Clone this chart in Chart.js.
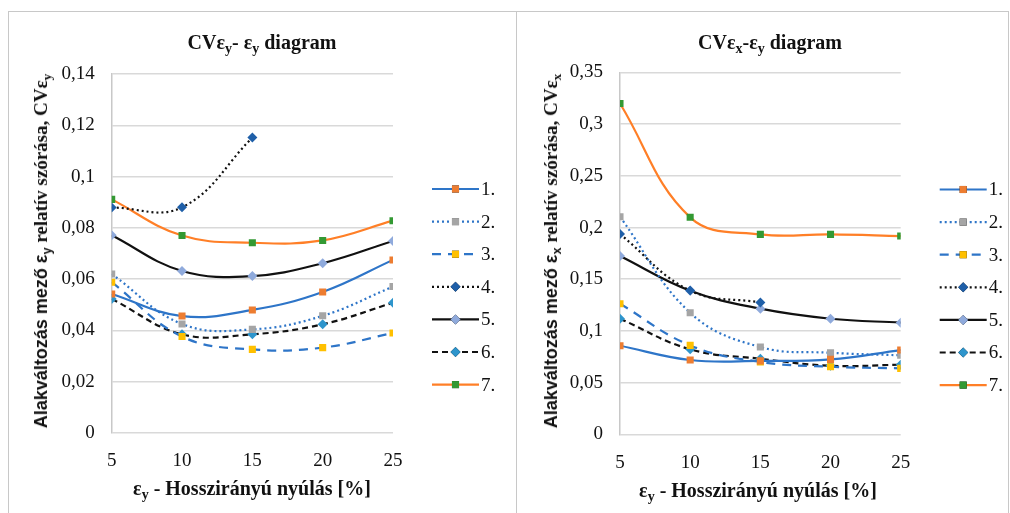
<!DOCTYPE html>
<html>
<head>
<meta charset="utf-8">
<title>CV diagrams</title>
<script src="https://cdn.jsdelivr.net/npm/chart.js"></script>
<style>
  body { margin: 0; background: #fff; width: 1010px; height: 513px; overflow: hidden; position: relative; }
  .frame { position: absolute; left: 8px; top: 11px; width: 999px; height: 510px;
           border: 1.5px solid #c8c8c8; border-bottom: none; }
  .divider { position: absolute; left: 516px; top: 11px; width: 0; height: 510px; border-left: 1.5px solid #c8c8c8; }
  .panel { position: absolute; top: 11px; height: 502px; }
  .panel canvas { position: absolute; left: 0; top: 0; }
  .title, .xtitle { position: absolute; transform: translate(-50%, -50%); white-space: nowrap;
           font-family: "Liberation Serif", serif; font-weight: bold; font-size: 20px; color: #111; }
  .ytitle { position: absolute; white-space: nowrap; transform: translate(-50%, -50%) rotate(-90deg);
           font-weight: bold; font-size: 19px; color: #111; font-family: "Liberation Serif", serif; }
  .ytitle .sans { font-family: "Liberation Sans", sans-serif; font-size: 18px; }
  sub { font-size: 70%; vertical-align: -0.3em; line-height: 0; }
</style>
</head>
<body>
<div class="frame"></div>
<div class="divider"></div>

<div class="panel" id="leftPanel" style="left:8px;width:508px;">
  <canvas id="chartY" width="508" height="502"></canvas>
</div>
<div class="panel" id="rightPanel" style="left:517px;width:491px;">
  <canvas id="chartX" width="491" height="502"></canvas>
</div>

<div class="title" style="left:262px;top:42px;">CVε<sub>y</sub>- ε<sub>y</sub> diagram</div>
<div class="title" style="left:770px;top:42px;">CVε<sub>x</sub>-ε<sub>y</sub> diagram</div>
<div class="xtitle" style="left:252px;top:488px;">ε<sub>y</sub> - Hosszirányú nyúlás [%]</div>
<div class="xtitle" style="left:758px;top:490px;">ε<sub>y</sub> - Hosszirányú nyúlás [%]</div>
<div class="ytitle" style="left:41px;top:251px;"><span class="sans">Alakváltozás mező ε<sub>y</sub></span> relatív szórása, CVε<sub>y</sub></div>
<div class="ytitle" style="left:551px;top:251px;"><span class="sans">Alakváltozás mező ε<sub>x</sub></span> relatív szórása, CVε<sub>x</sub></div>

<script>
// x values: longitudinal strain [%]
const strains = [5, 10, 15, 20, 25];
const seriesNames = ['1.', '2.', '3.', '4.', '5.', '6.', '7.'];

// CV of eps_y (left chart)
const cvEy1 = [0.0542, 0.0456, 0.0480, 0.0550, 0.0675];
const cvEy2 = [0.0620, 0.0425, 0.0404, 0.0457, 0.0571];
const cvEy3 = [0.0588, 0.0376, 0.0326, 0.0333, 0.0390];
const cvEy4 = [0.0879, 0.0880, 0.1152];
const cvEy5 = [0.0771, 0.0632, 0.0612, 0.0662, 0.0749];
const cvEy6 = [0.0523, 0.0385, 0.0385, 0.0424, 0.0508];
const cvEy7 = [0.0911, 0.0770, 0.0742, 0.0751, 0.0828];

// CV of eps_x (right chart)
const cvEx1 = [0.0857, 0.0719, 0.0710, 0.0725, 0.0815];
const cvEx2 = [0.2105, 0.1176, 0.0844, 0.0789, 0.0764];
const cvEx3 = [0.1263, 0.0860, 0.0700, 0.0654, 0.0638];
const cvEx4 = [0.1937, 0.1390, 0.1276];
const cvEx5 = [0.1724, 0.1389, 0.1215, 0.1118, 0.1080];
const cvEx6 = [0.1118, 0.0822, 0.0731, 0.0663, 0.0673];
const cvEx7 = [0.3200, 0.2099, 0.1934, 0.1934, 0.1918];

// line + marker look per series
const BLUE = '#2e75c8';
const styles = [
  { line: BLUE,      dash: [],     marker: '#ed7d31', shape: 'rect' },
  { line: BLUE,      dash: [2, 3], marker: '#a5a5a5', shape: 'rect' },
  { line: BLUE,      dash: [9, 7], marker: '#ffc000', shape: 'rect' },
  { line: '#111111', dash: [2, 3], marker: '#1f5fa8', shape: 'rectRot' },
  { line: '#111111', dash: [],     marker: '#8faadc', shape: 'rectRot' },
  { line: '#111111', dash: [6, 4], marker: '#2e95cc', shape: 'rectRot' },
  { line: '#ff7f27', dash: [],     marker: '#339933', shape: 'rect' }
];

function makeDatasets(list) {
  return list.map((vals, i) => {
    const s = styles[i];
    return {
      label: seriesNames[i],
      data: vals.map((v, j) => ({ x: strains[j], y: v })),
      borderColor: s.line,
      borderWidth: 2.2,
      borderDash: s.dash,
      tension: 0.4,
      pointStyle: s.shape,
      pointRadius: 5,
      pointBackgroundColor: s.marker,
      pointBorderColor: s.marker,
      pointBorderWidth: 0,
      fill: false
    };
  });
}

function fmt(v) {
  return String(+v.toFixed(2)).replace('.', ',');
}

// legend: line sample with marker in the middle, drawn to the right of the plot
const sideLegend = {
  id: 'sideLegend',
  afterDraw(chart, args, opts) {
    const ctx = chart.ctx;
    const a = chart.chartArea;
    const x0 = a.right + 39, len = 47;
    chart.data.datasets.forEach((ds, i) => {
      const y = a.top + opts.offset + i * 32.6;
      ctx.save();
      ctx.strokeStyle = ds.borderColor;
      ctx.lineWidth = ds.borderWidth;
      ctx.setLineDash(ds.borderDash);
      ctx.beginPath();
      ctx.moveTo(x0, y);
      ctx.lineTo(x0 + len, y);
      ctx.stroke();
      ctx.setLineDash([]);
      Chart.helpers.drawPoint(ctx, { pointStyle: ds.pointStyle, radius: ds.pointRadius, borderWidth: 0 }, x0 + len / 2, y);
      ctx.fillStyle = ds.pointBackgroundColor;
      ctx.fill();
      ctx.fillStyle = '#111';
      ctx.font = '19px "Liberation Serif", serif';
      ctx.textBaseline = 'middle';
      ctx.fillText(ds.label, x0 + len + 2, y + 1);
      ctx.restore();
    });
  }
};

function makeChart(id, list, yMax, yStep, areaLeft, padRight, padTop, xHeight, legendOffset) {
  return new Chart(document.getElementById(id), {
    type: 'line',
    data: { datasets: makeDatasets(list) },
    options: {
      responsive: false,
      animation: false,
      layout: { padding: { top: padTop, right: padRight, left: 0, bottom: 0 } },
      plugins: {
        legend: { display: false },
        tooltip: { enabled: false },
        sideLegend: { offset: legendOffset }
      },
      scales: {
        x: {
          type: 'linear', min: 5, max: 25,
          ticks: { stepSize: 5, padding: 9, color: '#111', font: { family: '"Liberation Serif", serif', size: 19 } },
          grid: { display: false },
          border: { display: false },
          afterFit(scale) { scale.height = xHeight; }
        },
        y: {
          min: 0, max: yMax,
          ticks: { stepSize: yStep, padding: 17, color: '#111', callback: fmt,
                   font: { family: '"Liberation Serif", serif', size: 19 } },
          grid: { color: '#d9d9d9', lineWidth: 1.5, drawTicks: false },
          border: { display: true, color: '#c8c8c8', width: 1.5 },
          afterFit(scale) { scale.width = areaLeft; }
        }
      }
    },
    plugins: [sideLegend]
  });
}

makeChart('chartY', [cvEy1, cvEy2, cvEy3, cvEy4, cvEy5, cvEy6, cvEy7], 0.14, 0.02, 103.7, 123, 63, 80, 115);
makeChart('chartX', [cvEx1, cvEx2, cvEx3, cvEx4, cvEx5, cvEx6, cvEx7], 0.35, 0.05, 103, 107.3, 61.5, 78.7, 117);
</script>
</body>
</html>
